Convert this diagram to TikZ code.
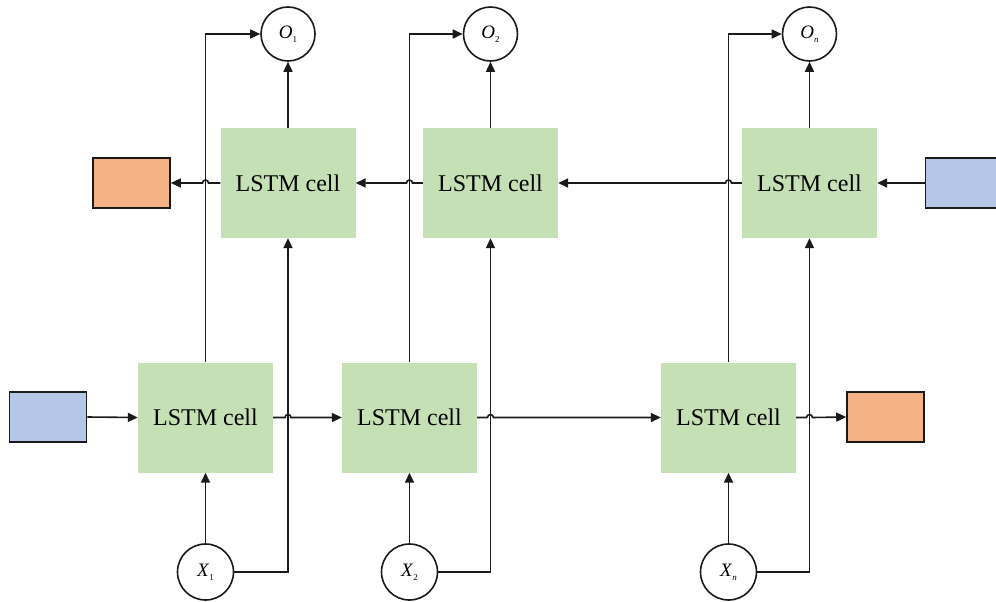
\documentclass[tikz,border=0pt]{standalone}
\usepackage{fontspec}
\setmainfont{Liberation Serif}
\usetikzlibrary{arrows.meta}
\definecolor{cellgreen}{HTML}{C5E0B4}
\definecolor{boxorange}{HTML}{F4B183}
\definecolor{boxblue}{HTML}{B4C7E7}
\definecolor{edge}{HTML}{1A1A1A}
\newcommand{\sublab}[2]{\textit{#1}\raisebox{-0.5ex}{\fontsize{9}{9}\selectfont #2}}
\begin{document}
\begin{tikzpicture}[x=1pt,y=-1pt,
  cellbox/.style={fill=cellgreen,minimum width=135pt,minimum height=110pt,inner sep=0pt,font=\fontsize{24}{24}\selectfont},
  statebox/.style={draw=edge,line width=1.6pt,minimum width=77pt,minimum height=50pt,inner sep=0pt},
  ionode/.style={draw=edge,line width=1.6pt,circle,inner sep=0pt,font=\fontsize{19}{19}\selectfont},
  conn/.style={draw=edge,line width=1.6pt,-{Triangle[length=10pt,width=9pt]}}
]
\useasboundingbox (0,0) rectangle (996,602);
% cells
\node[cellbox] (t1) at (288,183) {LSTM cell};
\node[cellbox] (t2) at (490.5,183) {LSTM cell};
\node[cellbox] (t3) at (809.5,183) {LSTM cell};
\node[cellbox] (b1) at (205.5,417.5) {LSTM cell};
\node[cellbox] (b2) at (409.5,417.5) {LSTM cell};
\node[cellbox] (b3) at (728.5,417.5) {LSTM cell};
% state boxes
\node[statebox,fill=boxblue] (lin) at (48,417) {};
\node[statebox,fill=boxorange] (rout) at (885.5,417) {};
\node[statebox,fill=boxorange] (lout) at (131.5,183) {};
\node[statebox,fill=boxblue] (rin) at (964,183) {};
% io circles
\node[ionode,minimum size=54pt] (o1) at (288,34) {\sublab{O}{1}};
\node[ionode,minimum size=54pt] (o2) at (490.5,34) {\sublab{O}{2}};
\node[ionode,minimum size=54pt] (o3) at (809.5,34) {\sublab{O}{\textit{n}}};
\node[ionode,minimum size=56pt] (x1) at (205.5,572) {\sublab{X}{1}};
\node[ionode,minimum size=56pt] (x2) at (409.5,572) {\sublab{X}{2}};
\node[ionode,minimum size=56pt] (x3) at (728.5,572) {\sublab{X}{\textit{n}}};
% vertical connectors
\foreach \c in {1,2,3} {
  \draw[conn] (t\c.north) -- (o\c.south);
  \draw[conn] (x\c.north) -- (b\c.south);
  \draw[conn] (b\c.north) |- (o\c.west);
  \draw[conn] (x\c.east) -| (t\c.south);
}
% bottom row (left to right) with hops
\draw[conn] (lin.east) -- (b1.west);
\draw[conn] (b1.east) -- ([xshift=-3pt]b1.east -| t1.south) arc[start angle=180,end angle=0,radius=3pt] -- (b2.west);
\draw[conn] (b2.east) -- ([xshift=-3pt]b2.east -| t2.south) arc[start angle=180,end angle=0,radius=3pt] -- (b3.west);
\draw[conn] (b3.east) -- ([xshift=-3pt]b3.east -| t3.south) arc[start angle=180,end angle=0,radius=3pt] -- (rout.west);
% top row (right to left) with hops
\draw[conn] (rin.west) -- (t3.east);
\draw[conn] (t3.west) -- ([xshift=3pt]t3.west -| b3.north) arc[start angle=0,end angle=180,radius=3pt] -- (t2.east);
\draw[conn] (t2.west) -- ([xshift=3pt]t2.west -| b2.north) arc[start angle=0,end angle=180,radius=3pt] -- (t1.east);
\draw[conn] (t1.west) -- ([xshift=3pt]t1.west -| b1.north) arc[start angle=0,end angle=180,radius=3pt] -- (lout.east);
\end{tikzpicture}
\end{document}
